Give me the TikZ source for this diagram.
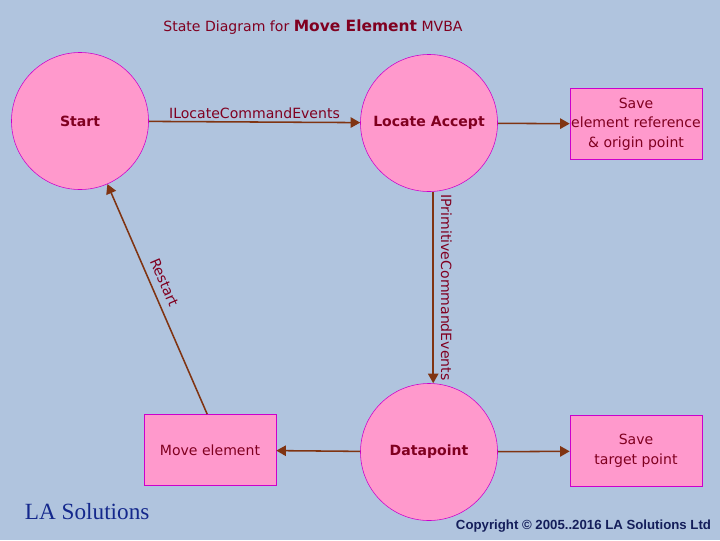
\documentclass[tikz,border=0pt]{standalone}
\usepackage{fontspec}
\setmainfont{DejaVu Sans}
\newfontfamily\logofont{Liberation Serif}
\newfontfamily\copyfont{Liberation Sans}
\usepackage{xcolor}
\usetikzlibrary{arrows.meta}
\definecolor{canvas}{RGB}{176,196,222}
\definecolor{statefill}{RGB}{255,153,204}
\definecolor{stateline}{RGB}{204,0,204}
\definecolor{flowline}{RGB}{128,52,18}
\definecolor{labeltext}{RGB}{128,0,32}
\definecolor{logoblue}{RGB}{20,40,140}
\definecolor{copyblue}{RGB}{20,30,90}

\begin{document}
\begin{tikzpicture}[x=0.025cm, y=-0.025cm,
  state/.style={circle, draw=stateline, fill=statefill, minimum size=3.425cm,
    inner sep=0pt, font=\fontsize{10}{12}\selectfont\bfseries, text=labeltext},
  action/.style={draw=stateline, fill=statefill, minimum width=3.3cm,
    minimum height=1.78cm, inner sep=0pt, align=center,
    font=\fontsize{10}{14}\selectfont, text=labeltext},
  flow/.style={-{Triangle[length=2.4mm,width=2.6mm]}, draw=flowline, line width=1.1pt},
  lbl/.style={font=\fontsize{10}{11}\selectfont, text=labeltext, inner sep=1pt}
]

% Canvas and page size.
\fill[canvas] (0,0) rectangle (720,540);
\useasboundingbox (0,0) rectangle (720,540);

\node[lbl] (title) at (313,27)
  {State Diagram for \textbf{\fontsize{11}{12}\selectfont Move Element} MVBA};

% States.
\node[state] (start) at (80,121) {Start};
\node[state] (locate) at (429,123) {Locate Accept};
\node[state] (datapoint) at (429,452) {Datapoint};

% Actions.
\node[action] (saveref) at (636,124) {Save\\element reference\\\& origin point};
\node[action] (savetarget) at (636,451) {Save\\target point};
\node[action] (move) at (210,450) {Move element};

% Transitions.
\draw[flow] (start) -- node[lbl, above, yshift=1]{ILocateCommandEvents} (locate);
\draw[flow] (locate) -- (saveref);
\draw[flow] ([xshift=3]locate.south) -- node[lbl, midway, rotate=-90, anchor=south, inner sep=5pt]
  {IPrimitiveCommandEvents} ([xshift=3]datapoint.north);
\draw[flow] (datapoint) -- (move);
\draw[flow] (datapoint) -- (savetarget);
\draw[flow] ([xshift=-2]move.north) -- node[lbl, pos=0.55, sloped, above, inner sep=5pt]{Restart} (start);

% Footer.
\node[font=\logofont\fontsize{16.5}{17}\selectfont, text=logoblue, anchor=west] (logo)
  at (20,512) {LA Solutions};
\node[font=\copyfont\bfseries\fontsize{9.4}{10}\selectfont, text=copyblue, anchor=east] (copyright)
  at (716,526) {Copyright © 2005..2016 LA Solutions Ltd};

\end{tikzpicture}
\end{document}
